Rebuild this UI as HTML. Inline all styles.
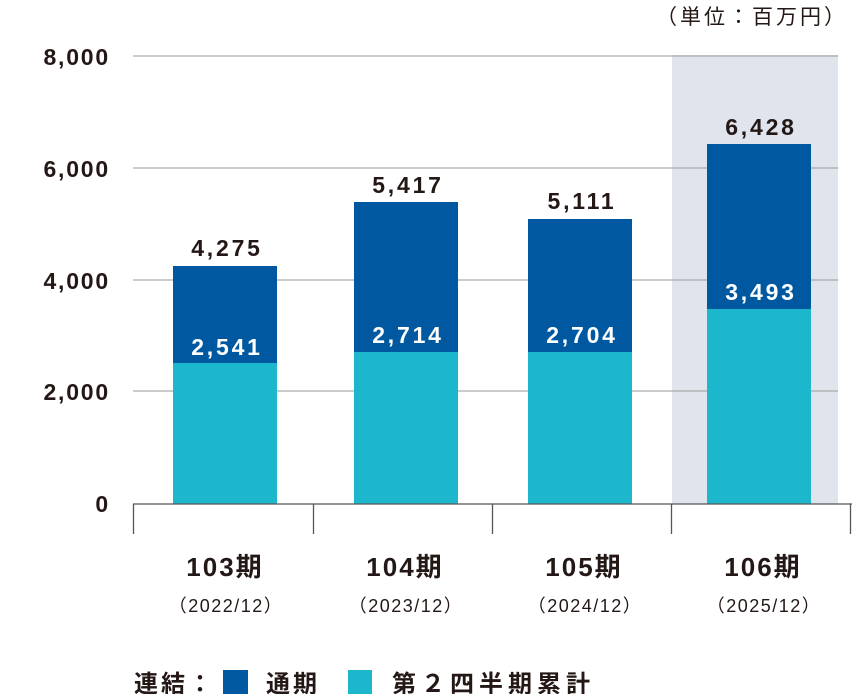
<!DOCTYPE html>
<html><head><meta charset="utf-8"><style>
html,body{margin:0;padding:0;background:#fff;}
svg{display:block;font-family:"Liberation Sans","Noto Sans CJK JP",sans-serif;}
</style></head><body>
<svg width="852" height="694" viewBox="0 0 852 694" xmlns="http://www.w3.org/2000/svg">
<rect x="672" y="55" width="166" height="449" fill="#e0e4ec"/>
<g stroke="#9a9a9a" stroke-width="1">
<line x1="133" y1="56" x2="838" y2="56"/>
<line x1="133" y1="168" x2="838" y2="168"/>
<line x1="133" y1="280" x2="838" y2="280"/>
<line x1="133" y1="391" x2="838" y2="391"/>
</g>
<g font-size="23" font-weight="bold" fill="#231815" text-anchor="end" letter-spacing="1.8">
<text x="110" y="65">8,000</text>
<text x="110" y="177">6,000</text>
<text x="110" y="289">4,000</text>
<text x="110" y="400">2,000</text>
<text x="110" y="512">0</text>
</g>
<text x="848" y="24" font-size="21" fill="#231815" text-anchor="end" letter-spacing="3">（単位：百万円）</text>
<g>
<rect x="173" y="266" width="104" height="238" fill="#0059a0"/>
<rect x="173" y="363" width="104" height="141" fill="#1cb7cd"/>
<rect x="354" y="202" width="104" height="302" fill="#0059a0"/>
<rect x="354" y="352" width="104" height="152" fill="#1cb7cd"/>
<rect x="528" y="219" width="104" height="285" fill="#0059a0"/>
<rect x="528" y="352" width="104" height="152" fill="#1cb7cd"/>
<rect x="707" y="144" width="104" height="360" fill="#0059a0"/>
<rect x="707" y="309" width="104" height="195" fill="#1cb7cd"/>
</g>
<g font-size="23" font-weight="bold" fill="#231815" text-anchor="middle" letter-spacing="2.8">
<text x="227" y="256">4,275</text>
<text x="408" y="193">5,417</text>
<text x="582" y="209">5,111</text>
<text x="761" y="135">6,428</text>
</g>
<g font-size="23" font-weight="bold" fill="#fff" text-anchor="middle" letter-spacing="2.8">
<text x="227" y="355">2,541</text>
<text x="408" y="343">2,714</text>
<text x="582" y="343">2,704</text>
<text x="761" y="300">3,493</text>
</g>
<g stroke="#555" stroke-width="1.3">
<line x1="133" y1="504" x2="852" y2="504"/>
<line x1="133.5" y1="504" x2="133.5" y2="534"/>
<line x1="313.5" y1="504" x2="313.5" y2="534"/>
<line x1="492.5" y1="504" x2="492.5" y2="534"/>
<line x1="671.5" y1="504" x2="671.5" y2="534"/>
<line x1="850.5" y1="504" x2="850.5" y2="534"/>
</g>
<g fill="#231815" text-anchor="middle">
<g font-size="26" font-weight="bold" letter-spacing="2">
<text x="225" y="576">103期</text>
<text x="405" y="576">104期</text>
<text x="584" y="576">105期</text>
<text x="763" y="576">106期</text>
</g>
<g font-size="18" letter-spacing="1.5">
<text x="226" y="612">（2022/12）</text>
<text x="406" y="612">（2023/12）</text>
<text x="585" y="612">（2024/12）</text>
<text x="764" y="612">（2025/12）</text>
</g>
</g>
<g font-size="24" font-weight="bold" fill="#231815">
<text x="134" y="692" letter-spacing="3">連結：</text>
<rect x="223" y="670" width="25" height="24" fill="#0059a0"/>
<text x="266" y="692" letter-spacing="3">通期</text>
<rect x="348" y="670" width="24" height="24" fill="#1cb7cd"/>
<text x="392" y="692" letter-spacing="5">第２四半期累計</text>
</g>
</svg>
</body></html>
